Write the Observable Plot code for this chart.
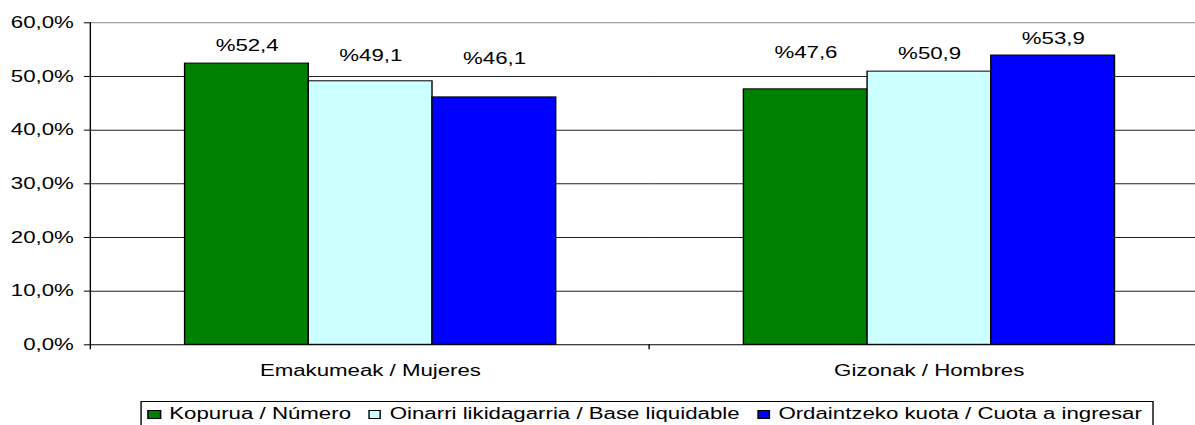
<!DOCTYPE html>
<html>
<head>
<meta charset="utf-8">
<script src="https://cdn.jsdelivr.net/npm/d3@7"></script>
<script src="https://cdn.jsdelivr.net/npm/@observablehq/plot@0.6"></script>
<style>
  html, body { margin: 0; padding: 0; background: #fff; overflow: hidden; }
  #wrap { position: relative; width: 880px; height: 425px; transform: scaleX(1.39); transform-origin: 0 0;
          font-family: "Liberation Sans", Arial, sans-serif; }
  #legend { position: absolute; left: 101.4px; top: 401px; width: 728.5px; height: 40px;
            border: 1px solid #000; box-sizing: border-box; padding: 3px 0 0 4px;
            font-size: 16px; line-height: 18px; white-space: nowrap; color: #000; }
  #legend .item { display: inline-block; margin-right: 12.5px; }
  #legend .sw { display: inline-block; width: 9.4px; height: 9px; border: 1px solid #000; box-sizing: border-box;
                margin-right: 6px; vertical-align: baseline; }
</style>
</head>
<body>
<div id="wrap"><div id="chart"></div><div id="legend"></div></div>
<script>
const categories = ["Emakumeak / Mujeres", "Gizonak / Hombres"];
const series = ["Kopurua / Número", "Oinarri likidagarria / Base liquidable", "Ordaintzeko kuota / Cuota a ingresar"];
const emakumeak = [52.4, 49.1, 46.1];
const gizonak = [47.6, 50.9, 53.9];
const yTicks = [0, 10, 20, 30, 40, 50, 60];

const colors = ["#008000", "#CCFFFF", "#0000FF"];
const labelDy = [-17.5, -25.5, -39, -36.5, -18, -17];

const valuesByCat = [emakumeak, gizonak];
const rows = categories.flatMap((c, ci) => series.map((s, si) => ({cat: c, series: s, value: valuesByCat[ci][si]})));
const fmtPct = v => v.toFixed(1).replace(".", ",") + "%";
const fmtLabel = d => "%" + d.value.toFixed(1).replace(".", ",");

let facetCount = 0;
function axisLines(index, scales, values, dimensions) {
  const {marginLeft} = dimensions;
  const y0 = scales.y(0), yTop = scales.y(60);
  const g = d3.create("svg:g").attr("stroke", "#000").attr("stroke-width", 1);
  if (facetCount++ === 0) {
    g.append("line").attr("x1", marginLeft).attr("x2", marginLeft).attr("y1", yTop).attr("y2", y0 + 5);
  } else {
    g.append("line").attr("x1", marginLeft).attr("x2", marginLeft).attr("y1", y0).attr("y2", y0 + 5);
  }
  return g.node();
}

const chart = Plot.plot({
  width: 880,
  height: 395,
  marginLeft: 64.2,
  marginRight: 10,
  marginTop: 22.3,
  marginBottom: 50.7,
  style: {fontFamily: "'Liberation Sans', Arial, sans-serif", fontSize: "16px", color: "#000", background: "transparent", overflow: "visible"},
  fx: {domain: categories, padding: 0, label: null, tickSize: 0, tickPadding: 19.6, axis: "bottom"},
  x: {domain: series, paddingInner: 0, paddingOuter: 0.74, axis: null},
  y: {domain: [0, 60], ticks: yTicks, tickFormat: fmtPct, tickSize: 4.7, tickPadding: 7.7, label: null},
  color: {domain: series, range: colors},
  marks: [
    Plot.ruleY(yTicks.filter(t => t > 0 && t < 60), {stroke: "#222", strokeWidth: 1}),
    Plot.ruleY([60], {stroke: "#888", strokeWidth: 1}),
    Plot.barY(rows, {fx: "cat", x: "series", y: "value", fill: "series", stroke: "#000", strokeWidth: 1}),
    Plot.ruleY([0], {stroke: "#000", strokeWidth: 1}),
    ...rows.map((r, i) => Plot.text([r], {fx: "cat", x: "series", y: "value", text: fmtLabel, dy: labelDy[i], fill: "#000", fontSize: 16})),
    axisLines
  ]
});
document.getElementById("chart").appendChild(chart);

const legend = document.getElementById("legend");
series.forEach((s, i) => {
  const item = document.createElement("span");
  item.className = "item";
  const sw = document.createElement("span");
  sw.className = "sw";
  sw.style.background = colors[i];
  item.appendChild(sw);
  item.appendChild(document.createTextNode(s));
  legend.appendChild(item);
});
</script>
</body>
</html>
